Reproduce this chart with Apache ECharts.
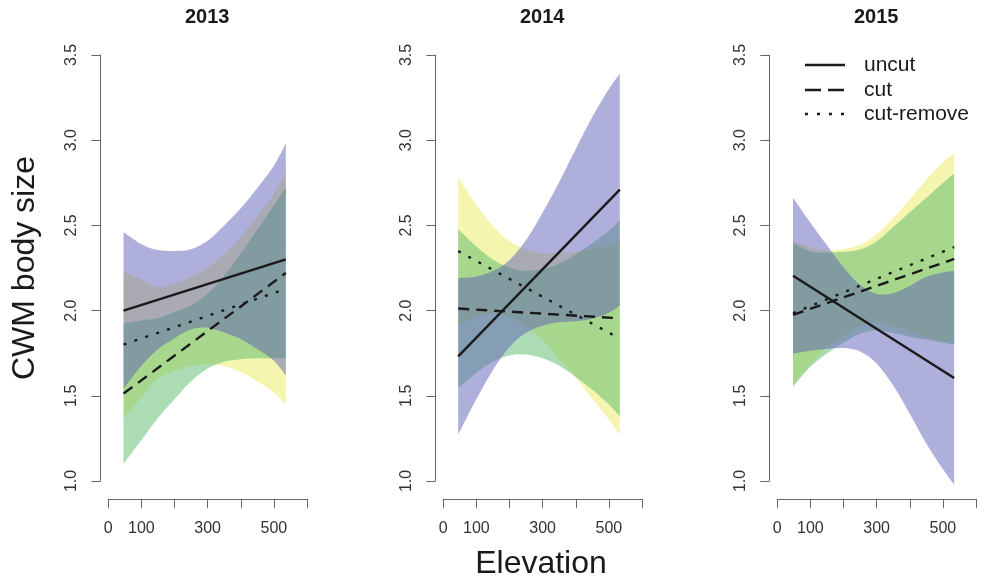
<!DOCTYPE html>
<html><head><meta charset="utf-8">
<script src="https://cdn.jsdelivr.net/npm/echarts@6/dist/echarts.min.js"></script>
<style>html,body{margin:0;padding:0;background:#fff}#c{width:984px;height:583px}</style>
</head><body><div id="c"></div>
<script>
// ---------- data ----------
const years = ['2013', '2014', '2015'];
const treatments = ['uncut', 'cut', 'cut-remove'];
const xTickValues = [0, 100, 200, 300, 400, 500, 600];
const xTickLabels = ['0', '100', '', '300', '', '500', ''];
const yTickValues = [1.0, 1.5, 2.0, 2.5, 3.0, 3.5];

// elevations at which band edges were read
const elev2013 = [46, 100, 150, 200, 250, 300, 350, 400, 450, 500, 536];
const elev2014 = [45, 100, 150, 200, 250, 300, 350, 400, 450, 500, 533];
const elev2015 = [47.5, 100, 150, 200, 250, 300, 350, 400, 450, 500, 534];

// 2013
const uncutLine2013 = [2.00, 2.30];
const uncutLo2013 = [1.54, 1.676, 1.773, 1.838, 1.89, 1.90, 1.872, 1.834, 1.774, 1.706, 1.62];
const uncutHi2013 = [2.46, 2.39, 2.355, 2.35, 2.36, 2.41, 2.50, 2.60, 2.72, 2.85, 2.98];
const cutLine2013 = [1.513, 2.221];
const cutLo2013 = [1.10, 1.24, 1.37, 1.48, 1.585, 1.66, 1.70, 1.715, 1.72, 1.72, 1.72];
const cutHi2013 = [1.926, 1.942, 1.956, 1.992, 2.031, 2.10, 2.204, 2.335, 2.474, 2.618, 2.721];
const remLine2013 = [1.80, 2.127];
const remLo2013 = [1.37, 1.49, 1.60, 1.645, 1.675, 1.685, 1.675, 1.64, 1.585, 1.52, 1.45];
const remHi2013 = [2.23, 2.182, 2.138, 2.161, 2.197, 2.253, 2.331, 2.432, 2.553, 2.686, 2.804];

// 2014
const uncutLine2014 = [1.731, 2.71];
const uncutLo2014 = [1.271, 1.481, 1.652, 1.787, 1.87, 1.911, 1.931, 1.937, 1.952, 1.988, 2.03];
const uncutHi2014 = [2.19, 2.20, 2.232, 2.297, 2.414, 2.575, 2.755, 2.949, 3.136, 3.30, 3.39];
const cutLine2014 = [2.012, 1.955];
const cutLo2014 = [1.545, 1.636, 1.70, 1.736, 1.742, 1.72, 1.676, 1.611, 1.535, 1.449, 1.38];
const cutHi2014 = [2.479, 2.376, 2.30, 2.252, 2.234, 2.244, 2.276, 2.331, 2.395, 2.469, 2.53];
const remLine2014 = [2.349, 1.836];
const remLo2014 = [1.912, 1.961, 1.981, 1.964, 1.909, 1.825, 1.718, 1.606, 1.483, 1.361, 1.271];
const remHi2014 = [2.786, 2.621, 2.497, 2.408, 2.359, 2.337, 2.338, 2.346, 2.363, 2.381, 2.401];

// 2015
const uncutLine2015 = [2.205, 1.605];
const uncutLo2015 = [1.748, 1.765, 1.775, 1.78, 1.76, 1.69, 1.56, 1.395, 1.22, 1.07, 0.978];
const uncutHi2015 = [2.662, 2.515, 2.383, 2.254, 2.15, 2.098, 2.104, 2.145, 2.198, 2.224, 2.232];
const cutLine2015 = [1.975, 2.303];
const cutLo2015 = [1.553, 1.67, 1.748, 1.811, 1.864, 1.885, 1.868, 1.847, 1.83, 1.811, 1.80];
const cutHi2015 = [2.397, 2.35, 2.34, 2.345, 2.358, 2.405, 2.49, 2.577, 2.662, 2.749, 2.806];
const remLine2015 = [1.985, 2.373];
const remLo2015 = [1.56, 1.682, 1.782, 1.852, 1.907, 1.927, 1.909, 1.88, 1.844, 1.821, 1.823];
const remHi2015 = [2.41, 2.372, 2.352, 2.362, 2.387, 2.447, 2.543, 2.652, 2.768, 2.871, 2.923];

// ---------- build ----------
const panels = [
  {elev: elev2013, lines: [uncutLine2013, cutLine2013, remLine2013],
   bands: [[remLo2013, remHi2013], [cutLo2013, cutHi2013], [uncutLo2013, uncutHi2013]]},
  {elev: elev2014, lines: [uncutLine2014, cutLine2014, remLine2014],
   bands: [[remLo2014, remHi2014], [cutLo2014, cutHi2014], [uncutLo2014, uncutHi2014]]},
  {elev: elev2015, lines: [uncutLine2015, cutLine2015, remLine2015],
   bands: [[remLo2015, remHi2015], [cutLo2015, cutHi2015], [uncutLo2015, uncutHi2015]]}
];
// band order: cut-remove (yellow), cut (green), uncut (purple, on top)
const bandColors = ['rgba(235,235,97,0.5)', 'rgba(90,185,105,0.5)', 'rgba(93,95,182,0.5)'];
const lineTypes = ['solid', [11, 7], [3, 8.5]];
const FONT = 'Liberation Sans, Arial, Helvetica, sans-serif';
const gridLefts = [108.3, 443.3, 777.3];
const gridW = 198.7, gridTop = 55, gridH = 426;

// Catmull-Rom style smooth segments through pixel points
function smoothSegs(pts) {
  let d = '';
  for (let i = 0; i < pts.length - 1; i++) {
    const p0 = pts[i - 1] || pts[i], p1 = pts[i], p2 = pts[i + 1], p3 = pts[i + 2] || pts[i + 1];
    const c1x = p1[0] + (p2[0] - p0[0]) / 6, c1y = p1[1] + (p2[1] - p0[1]) / 6;
    const c2x = p2[0] - (p3[0] - p1[0]) / 6, c2y = p2[1] - (p3[1] - p1[1]) / 6;
    d += ' C' + c1x + ',' + c1y + ' ' + c2x + ',' + c2y + ' ' + p2[0] + ',' + p2[1];
  }
  return d;
}

const series = [];
panels.forEach((p, gi) => {
  p.bands.forEach((b, bi) => {
    const lo = b[0], hi = b[1];
    series.push({
      type: 'custom', coordinateSystem: 'cartesian2d', xAxisIndex: gi, yAxisIndex: gi, silent: true, z: 2,
      data: [[p.elev[0], lo[0]]],
      renderItem: function (params, api) {
        const up = p.elev.map((x, i) => api.coord([x, hi[i]]));
        const dn = p.elev.map((x, i) => api.coord([x, lo[i]])).reverse();
        const d = 'M' + up[0][0] + ',' + up[0][1] + smoothSegs(up) +
          ' L' + dn[0][0] + ',' + dn[0][1] + smoothSegs(dn) + ' Z';
        return {type: 'path', shape: {pathData: d}, style: {fill: bandColors[bi], stroke: null}};
      }
    });
  });
  const x0 = p.elev[0], x1 = p.elev[p.elev.length - 1];
  p.lines.forEach((ln, li) => {
    series.push({
      type: 'line', name: treatments[li], xAxisIndex: gi, yAxisIndex: gi, silent: true,
      data: [[x0, ln[0]], [x1, ln[1]]], symbol: 'none', clip: false,
      lineStyle: {color: '#1a1a1a', width: 2.4, type: lineTypes[li], cap: 'butt'}, z: 5
    });
  });
});

const grid = gridLefts.map(l => ({left: l, top: gridTop, width: gridW, height: gridH}));
const axisColor = '#666';
const xAxis = gridLefts.map((l, i) => ({
  gridIndex: i, type: 'value', min: 0, max: 600, interval: 100, offset: 18,
  axisLine: {show: true, onZero: false, lineStyle: {color: axisColor, width: 1}},
  axisTick: {show: true, length: 9, lineStyle: {color: axisColor, width: 1}},
  axisLabel: {margin: 22, fontSize: 16, color: '#333', fontFamily: FONT,
    formatter: v => { const k = xTickValues.indexOf(v); return k >= 0 ? xTickLabels[k] : ''; }},
  splitLine: {show: false}
}));
const yAxis = gridLefts.map((l, i) => ({
  gridIndex: i, type: 'value', min: yTickValues[0], max: yTickValues[yTickValues.length - 1], interval: 0.5, offset: 8,
  axisLine: {show: true, onZero: false, lineStyle: {color: axisColor, width: 1}},
  axisTick: {show: true, length: 9, lineStyle: {color: axisColor, width: 1}},
  axisLabel: {margin: 21, rotate: 90, fontSize: 16, color: '#333', fontFamily: FONT,
    formatter: v => v.toFixed(1)},
  splitLine: {show: false}
}));

const graphic = [];
years.forEach((y, i) => {
  graphic.push({type: 'text', x: gridLefts[i] + gridW / 2 - 0.5, y: 17.5,
    style: {text: y, font: 'bold 20px ' + FONT, fill: '#1a1a1a', align: 'center', verticalAlign: 'middle'}});
});
graphic.push({type: 'text', x: 25, y: 268, rotation: Math.PI / 2,
  style: {text: 'CWM body size', font: '32px ' + FONT, fill: '#1a1a1a', align: 'center', verticalAlign: 'middle'}});
graphic.push({type: 'text', x: 541, y: 564,
  style: {text: 'Elevation', font: '32px ' + FONT, fill: '#1a1a1a', align: 'center', verticalAlign: 'middle'}});
// legend
const legendY = [65, 90, 114];
const legendDash = [null, [16, 7], [3, 9]];
treatments.forEach((t, i) => {
  graphic.push({type: 'line', shape: {x1: 805, y1: legendY[i], x2: 845, y2: legendY[i]},
    style: {stroke: '#1a1a1a', lineWidth: 2.4, lineDash: legendDash[i], lineCap: 'butt'}});
  graphic.push({type: 'text', x: 864, y: legendY[i],
    style: {text: t, font: '21px ' + FONT, fill: '#1a1a1a', align: 'left', verticalAlign: 'middle'}});
});

const chart = echarts.init(document.getElementById('c'), null, {renderer: 'canvas'});
chart.setOption({
  animation: false, backgroundColor: '#fff',
  grid: grid, xAxis: xAxis, yAxis: yAxis, series: series, graphic: graphic
});
</script></body></html>
